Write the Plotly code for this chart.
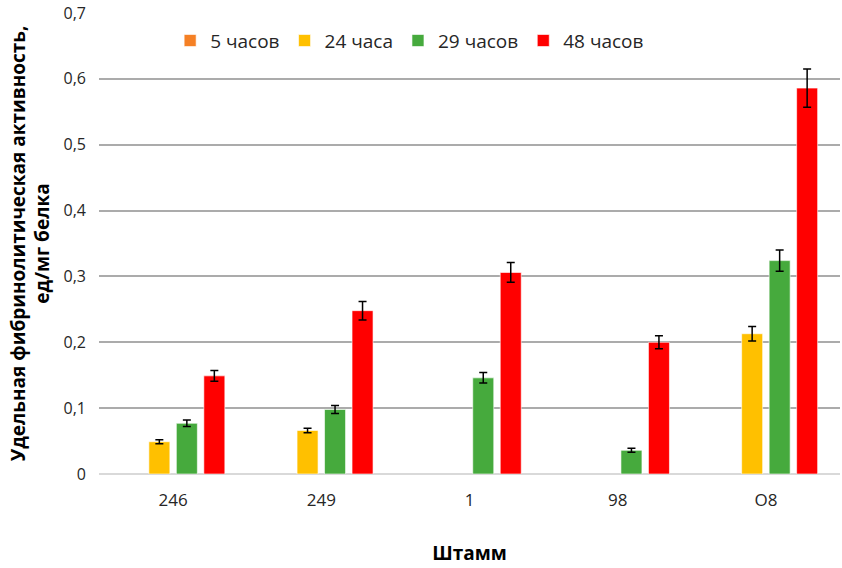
import plotly.graph_objects as go

strains = ["246", "249", "1", "98", "O8"]
series_names = ["5 часов", "24 часа", "29 часов", "48 часов"]

h5 = [None, None, None, None, None]
h24 = [0.049, 0.066, None, None, 0.213]
h29 = [0.077, 0.098, 0.146, 0.036, 0.324]
h48 = [0.149, 0.248, 0.306, 0.200, 0.586]

err5 = [None, None, None, None, None]
err24 = [0.003, 0.0035, None, None, 0.011]
err29 = [0.005, 0.006, 0.008, 0.003, 0.016]
err48 = [0.008, 0.014, 0.015, 0.010, 0.029]

colors = ["#F58025", "#FFC000", "#46AA3D", "#FF0000"]

y_ticks = [0, 0.1, 0.2, 0.3, 0.4, 0.5, 0.6, 0.7]
y_tick_labels = ["0", "0,1", "0,2", "0,3", "0,4", "0,5", "0,6", "0,7"]

FONT = "Open Sans"

fig = go.Figure()
for name, vals, errs, col in zip(series_names, [h5, h24, h29, h48],
                                 [err5, err24, err29, err48], colors):
    fig.add_trace(go.Bar(
        x=strains, y=vals, name=name,
        marker=dict(color=col, line=dict(color="rgba(255,255,255,0.6)", width=1)),
        error_y=dict(type="data", array=errs, visible=True,
                     color="#000000", thickness=1.5, width=4),
    ))

fig.update_layout(
    width=842, height=568,
    margin=dict(l=99, r=2, t=13, b=94),
    paper_bgcolor="white", plot_bgcolor="white",
    barmode="group", bargap=0.258, bargroupgap=0.236,
    font=dict(family=FONT, color="#262626"),
    showlegend=True,
    legend=dict(orientation="h", x=0.096, y=0.94, xanchor="left", yanchor="middle",
                font=dict(size=19, family=FONT, color="#262626"),
                bgcolor="rgba(0,0,0,0)", itemwidth=30, traceorder="normal"),
    xaxis=dict(
        showgrid=False, showline=False, ticks="", ticklabelstandoff=14,
        tickfont=dict(size=17, family=FONT, color="#262626"),
        title=dict(text="<b>Штамм</b>", font=dict(size=19, family=FONT, color="#000000"),
                   standoff=36),
    ),
    yaxis=dict(
        range=[0, 0.7], tickvals=y_ticks, ticktext=y_tick_labels,
        showgrid=True, gridcolor="#ABABAB", gridwidth=1.5,
        zeroline=True, zerolinecolor="#D9D9D9", zerolinewidth=1.5,
        showline=False, ticks="", ticklabelstandoff=12,
        tickfont=dict(size=16, family=FONT, color="#262626"),
        title=dict(text="<b>Удельная фибринолитическая активность,<br>ед/мг белка</b>",
                   font=dict(size=19, family=FONT, color="#000000"), standoff=8),
    ),
)

fig.write_html("out.html")
